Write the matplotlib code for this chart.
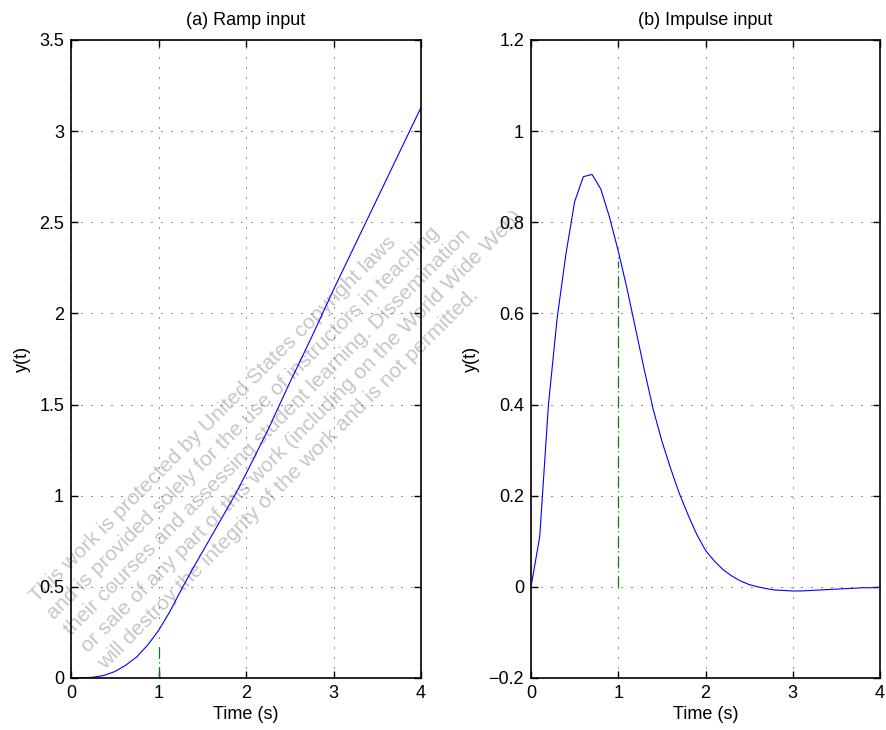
import matplotlib
matplotlib.use("Agg")
from matplotlib import pyplot as plt
from matplotlib.ticker import FuncFormatter
import numpy as np

# ramp response
ramp_t = [0.0, 0.125, 0.25, 0.375, 0.5, 0.625, 0.75, 0.875, 1.0, 1.125,
          1.25, 1.375, 1.5, 1.625, 1.75, 1.875, 2.0, 2.25, 2.5,
          2.75, 3.0, 3.25, 3.5, 3.75, 4.0]
ramp_y = [0.0, 0.0005, 0.004, 0.014, 0.035, 0.07, 0.115, 0.18, 0.26, 0.36,
          0.475, 0.585, 0.69, 0.795, 0.90, 1.005, 1.12, 1.36, 1.62,
          1.87, 2.13, 2.38, 2.63, 2.88, 3.13]

# impulse response, sampled every 0.1 s
imp_t = [round(0.1 * i, 1) for i in range(41)]
imp_y = [0.0, 0.11, 0.40, 0.59, 0.73, 0.845, 0.90, 0.905, 0.873, 0.811,
         0.737, 0.655, 0.565, 0.475, 0.39, 0.32, 0.26, 0.205, 0.158, 0.115,
         0.08, 0.057, 0.038, 0.024, 0.013, 0.005, 0.0, -0.004, -0.007, -0.008,
         -0.009, -0.009, -0.008, -0.007, -0.006, -0.005, -0.004, -0.003,
         -0.002, -0.002, -0.001]

# green markers at t = 1
mark_t = 1.0
ramp_mark = 0.19
imp_mark = 0.714

titles = ["(a) Ramp input", "(b) Impulse input"]
ylims = [(0, 3.5), (-0.2, 1.2)]
yticks = [np.arange(0, 3.51, 0.5), np.arange(-0.2, 1.21, 0.2)]

watermark = ("This work is protected by United States copyright laws\n"
             "and is provided solely for the use of instructors in teaching\n"
             "their courses and assessing student learning. Dissemination\n"
             "or sale of any part of this work (including on the World Wide Web)\n"
             "will destroy the integrity of the work and is not permitted.")

plt.rcParams['font.family'] = ['Liberation Sans', 'DejaVu Sans']
plt.rcParams['font.size'] = 13


def fmt(v, pos):
    s = "%g" % round(v, 6)
    return s.replace("-", "\u2212")


fig = plt.figure(figsize=(8.86, 7.30), dpi=100)
ax1 = fig.add_axes([71 / 886, 1 - 678 / 730, 350 / 886, 638 / 730])
ax2 = fig.add_axes([531 / 886, 1 - 678 / 730, 349 / 886, 638 / 730])

ax1.plot(ramp_t, ramp_y, color=(0, 0, 1), lw=0.8)
ax1.plot([mark_t, mark_t], [0, ramp_mark], color=(0, 0.5, 0), lw=0.9,
         linestyle=(0, (9, 3, 1, 3)))
ax2.plot(imp_t, imp_y, color=(0, 0, 1), lw=0.8)
ax2.plot([mark_t, mark_t], [0, imp_mark], color=(0, 0.5, 0), lw=0.9,
         linestyle=(0, (9, 3, 1, 3)))

for i, ax in enumerate([ax1, ax2]):
    ax.set_xlim(0, 4)
    ax.set_ylim(*ylims[i])
    ax.set_xticks(range(5))
    ax.set_yticks(yticks[i])
    ax.yaxis.set_major_formatter(FuncFormatter(fmt))
    ax.grid(True, color='black', lw=0.6, linestyle=(0, (1.2, 10.8)))
    ax.tick_params(direction='in', top=True, right=True, length=5,
                   width=1.0, pad=5, labelsize=13)
    for sp in ax.spines.values():
        sp.set_linewidth(1.2)
    ax.set_title(titles[i], pad=11, fontsize=13)
    ax.set_xlabel("Time (s)", labelpad=3)
    ax.set_ylabel("y(t)", labelpad=6)

# watermark sits under the right axes, so it is cut at its left edge
ax1.text(285 / 886, 1 - 415 / 730, watermark, transform=fig.transFigure,
         rotation=45, ha='center', va='center', multialignment='left',
         fontsize=15.3, color='#c6c6c6', linespacing=1.32, zorder=1,
         clip_on=False, rotation_mode='anchor')

fig.savefig("out.png", dpi=100)
